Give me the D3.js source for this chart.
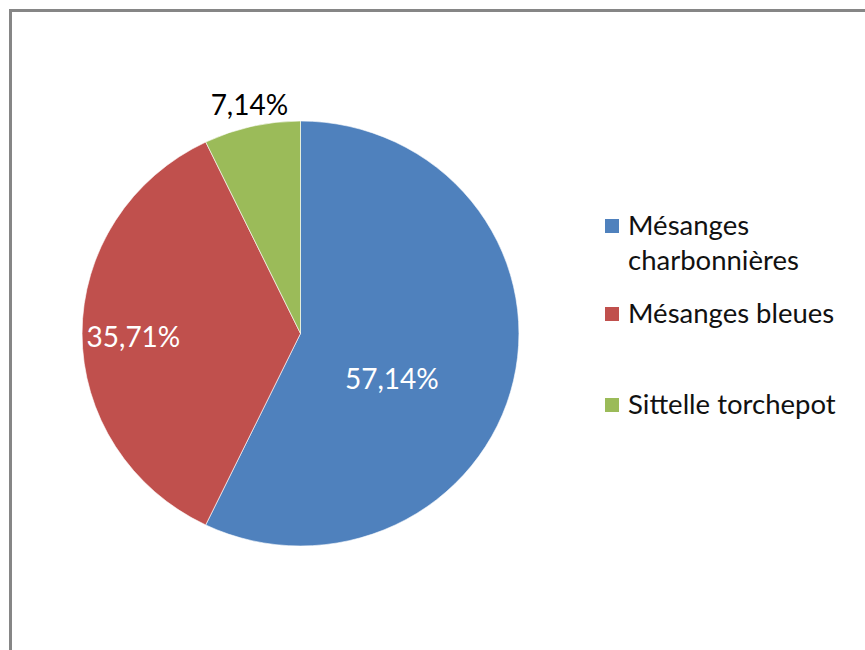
<!DOCTYPE html>
<html>
<head>
<meta charset="utf-8">
<script src="https://cdn.jsdelivr.net/npm/d3@7"></script>
<style>
  body { margin: 0; background: #fff; }
  text { font-family: Lato, "Open Sans", sans-serif; }
</style>
</head>
<body>
<div id="chart"></div>
<script>
const width = 865;
const height = 650;

// data
const categories = ["Mésanges charbonnières", "Mésanges bleues", "Sittelle torchepot"];
const values = [57.14, 35.71, 7.14];
const labels = ["57,14%", "35,71%", "7,14%"];
const colors = ["#4F81BD", "#C0504D", "#9BBB59"];
const legendLines = [["Mésanges", "charbonnières"], ["Mésanges bleues"], ["Sittelle torchepot"]];

const svg = d3.select("#chart")
  .append("svg")
  .attr("width", width)
  .attr("height", height);

// chart frame
svg.append("rect")
  .attr("x", 10.5)
  .attr("y", 10.5)
  .attr("width", width + 20)
  .attr("height", height + 20)
  .attr("fill", "#fff")
  .attr("stroke", "#868686")
  .attr("stroke-width", 3);

const radius = 212.5;
const cx = 300.5, cy = 333.5;

const pie = d3.pie().sort(null).value(d => d);
const arcs = pie(values);

const arc = d3.arc().innerRadius(0).outerRadius(radius);

// pie is a touch wider than tall in the original
const g = svg.append("g")
  .attr("transform", `translate(${cx},${cy}) scale(1.028,1)`);

g.selectAll("path")
  .data(arcs)
  .enter()
  .append("path")
  .attr("d", arc)
  .attr("fill", (d, i) => colors[i])
  .attr("stroke", "#fff")
  .attr("stroke-width", 0.6);

// label placement: fraction of radius and small angle shift (radians)
const labelPlace = [
  { r: 0.47, shift: 0.25, fill: "#fff" },
  { r: 0.765, shift: -0.02, fill: "#fff" },
  { r: 1.1, shift: 0.01, fill: "#000" }
];

const lg = svg.append("g")
  .attr("transform", `translate(${cx},${cy})`);

lg.selectAll("text")
  .data(arcs)
  .enter()
  .append("text")
  .attr("x", (d, i) => {
    const a = (d.startAngle + d.endAngle) / 2 + labelPlace[i].shift;
    return Math.sin(a) * radius * labelPlace[i].r * 1.028;
  })
  .attr("y", (d, i) => {
    const a = (d.startAngle + d.endAngle) / 2 + labelPlace[i].shift;
    return -Math.cos(a) * radius * labelPlace[i].r;
  })
  .attr("dy", "0.35em")
  .attr("text-anchor", "middle")
  .attr("font-size", 28)
  .attr("fill", (d, i) => labelPlace[i].fill)
  .text((d, i) => labels[i]);

// legend
const legendY = [226, 314, 405];
const legend = svg.append("g");

const item = legend.selectAll("g")
  .data(categories)
  .enter()
  .append("g")
  .attr("transform", (d, i) => `translate(605,${legendY[i]})`);

item.append("rect")
  .attr("x", 0)
  .attr("y", -7)
  .attr("width", 14)
  .attr("height", 14)
  .attr("fill", (d, i) => colors[i]);

item.append("text")
  .attr("font-size", 27.5)
  .attr("fill", "#111")
  .selectAll("tspan")
  .data((d, i) => legendLines[i])
  .enter()
  .append("tspan")
  .attr("x", 23)
  .attr("y", (d, j) => j * 35)
  .attr("dy", "0.33em")
  .text(d => d);
</script>
</body>
</html>
